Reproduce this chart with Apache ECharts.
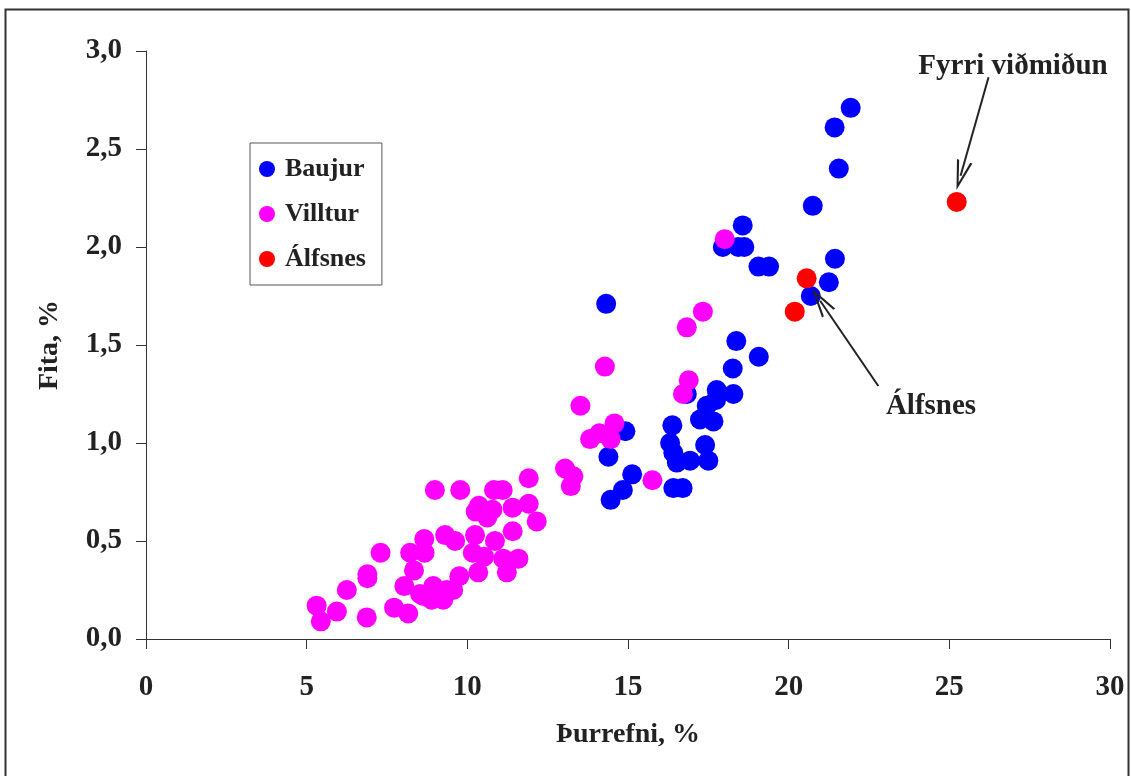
<!DOCTYPE html>
<html lang="is">
  <head>
    <meta charset="utf-8" />
    <title>Fita og þurrefni</title>
    <script src="https://cdn.jsdelivr.net/npm/echarts@6.0.0/dist/echarts.min.js"></script>
    <style>
      html, body { margin: 0; padding: 0; background: #fff; }
      #main { width: 1131px; height: 776px; }
    </style>
  </head>
  <body>
    <div id="main"></div>
    <script>
      // Þurrefni (%) , Fita (%)
      var baujur = [
        [14.32, 1.71], [14.39, 0.93], [14.92, 1.06], [14.46, 0.71], [14.84, 0.76],
        [15.13, 0.84], [16.38, 1.09], [16.31, 1.0], [16.41, 0.95], [16.52, 0.9],
        [16.93, 0.91], [17.5, 0.91], [17.4, 0.99], [16.41, 0.77], [16.7, 0.77],
        [17.76, 1.27], [18.28, 1.25], [17.45, 1.19], [17.24, 1.12], [17.66, 1.11],
        [17.74, 1.22], [16.83, 1.25], [18.37, 1.52], [19.07, 1.44], [18.26, 1.38],
        [20.75, 2.21], [18.57, 2.11], [17.95, 2.0], [18.43, 2.0], [18.62, 2.0],
        [19.06, 1.9], [19.39, 1.9], [21.44, 1.94], [21.25, 1.82], [20.69, 1.75],
        [21.93, 2.71], [21.43, 2.61], [21.56, 2.4]
      ];
      var villtur = [
        [18.01, 2.04], [17.33, 1.67], [16.83, 1.59], [16.89, 1.32], [16.71, 1.25],
        [14.28, 1.39], [13.52, 1.19], [13.82, 1.02], [14.11, 1.05], [14.58, 1.1],
        [14.46, 1.02], [15.76, 0.81], [13.04, 0.87], [13.3, 0.83], [13.22, 0.78],
        [11.91, 0.82], [8.99, 0.76], [9.78, 0.76], [10.83, 0.76], [11.1, 0.76],
        [10.36, 0.68], [10.78, 0.66], [11.41, 0.67], [11.91, 0.69], [12.16, 0.6],
        [10.62, 0.62], [11.41, 0.55], [10.24, 0.53], [10.86, 0.5], [9.62, 0.5],
        [9.31, 0.53], [8.66, 0.51], [8.22, 0.44], [8.67, 0.44], [7.3, 0.44],
        [8.34, 0.35], [6.89, 0.33], [6.89, 0.31], [10.17, 0.44], [10.52, 0.42],
        [11.12, 0.41], [11.59, 0.41], [10.34, 0.34], [11.23, 0.34], [9.75, 0.32],
        [9.56, 0.25], [9.36, 0.25], [8.94, 0.27], [8.63, 0.22], [9.25, 0.2],
        [8.89, 0.2], [8.04, 0.27], [8.53, 0.23], [7.72, 0.16], [8.16, 0.13],
        [6.25, 0.25], [5.94, 0.14], [5.31, 0.17], [5.44, 0.09], [6.87, 0.11],
        [10.26, 0.65]
      ];
      var alfsnes = [[20.56, 1.84], [20.19, 1.67], [25.23, 2.23]];

      var seriesNames = ["Baujur", "Villtur", "Álfsnes"];
      var seriesColors = ["#0000ff", "#ff00ff", "#ff0000"];

      // örvar: [upphaf, endir]
      var arrowFyrri = [[26.22, 2.866], [25.35, 2.364]];
      var arrowAlfsnes = [[22.79, 1.291], [20.98, 1.726]];

      var font = "'Liberation Serif', 'Times New Roman', serif";
      var textColor = "#222";
      var chevron = "path://M0,10 L5,0 L10,10 L8.6,10 L5,2.6 L1.4,10 Z";

      var myChart = echarts.init(document.getElementById("main"));

      function arrowLine(a) {
        return [
          { coord: a[0], symbol: "none" },
          { coord: a[1], symbol: chevron, symbolSize: [16, 30] }
        ];
      }

      var option = {
        backgroundColor: "#fff",
        animation: false,
        grid: { left: 146, top: 51, right: 21, bottom: 137 },
        legend: {
          orient: "vertical",
          left: 250,
          top: 143,
          padding: [11, 16, 11, 9],
          itemGap: 15,
          itemWidth: 16,
          itemHeight: 16,
          borderColor: "#555",
          borderWidth: 1,
          icon: "circle",
          data: seriesNames,
          textStyle: {
            fontFamily: font,
            fontWeight: "bold",
            fontSize: 26,
            lineHeight: 30,
            padding: [0, 0, 0, 5],
            color: textColor
          }
        },
        xAxis: {
          type: "value",
          min: 0,
          max: 30,
          interval: 5,
          name: "Þurrefni, %",
          nameLocation: "middle",
          nameGap: 82,
          nameTextStyle: { fontFamily: font, fontWeight: "bold", fontSize: 28, color: textColor },
          splitLine: { show: false },
          axisLine: { lineStyle: { color: "#333", width: 1 } },
          axisTick: { length: 10, lineStyle: { color: "#333" } },
          axisLabel: { margin: 34, fontFamily: font, fontWeight: "bold", fontSize: 29, color: textColor }
        },
        yAxis: {
          type: "value",
          min: 0,
          max: 3,
          interval: 0.5,
          name: "Fita, %",
          nameLocation: "middle",
          nameGap: 82,
          nameRotate: 90,
          nameTextStyle: { fontFamily: font, fontWeight: "bold", fontSize: 28, color: textColor },
          splitLine: { show: false },
          axisLine: { show: true, lineStyle: { color: "#333", width: 1 } },
          axisTick: { show: true, length: 10, lineStyle: { color: "#333" } },
          axisLabel: {
            margin: 24,
            fontFamily: font,
            fontWeight: "bold",
            fontSize: 29,
            color: textColor,
            formatter: function (v) { return v.toFixed(1).replace(".", ","); }
          }
        },
        series: [
          {
            name: seriesNames[0],
            type: "scatter",
            symbolSize: 20,
            itemStyle: { color: seriesColors[0], opacity: 1 },
            data: baujur
          },
          {
            name: seriesNames[1],
            type: "scatter",
            symbolSize: 20,
            itemStyle: { color: seriesColors[1], opacity: 1 },
            data: villtur
          },
          {
            name: seriesNames[2],
            type: "scatter",
            symbolSize: 20,
            itemStyle: { color: seriesColors[2], opacity: 1 },
            data: alfsnes,
            markLine: {
              silent: true,
              animation: false,
              label: { show: false },
              lineStyle: { color: "#222", width: 2, type: "solid" },
              data: [arrowLine(arrowFyrri), arrowLine(arrowAlfsnes)]
            }
          }
        ],
        graphic: [
          {
            type: "rect",
            left: 3,
            top: 7,
            shape: { width: 1123, height: 790 },
            style: { fill: null, stroke: "#333", lineWidth: 2 },
            silent: true
          },
          {
            type: "text",
            x: 1013,
            y: 67,
            style: {
              text: "Fyrri viðmiðun",
              font: "bold 29px " + font,
              fill: textColor,
              textAlign: "center",
              textVerticalAlign: "middle"
            }
          },
          {
            type: "text",
            x: 931,
            y: 407,
            style: {
              text: "Álfsnes",
              font: "bold 29px " + font,
              fill: textColor,
              textAlign: "center",
              textVerticalAlign: "middle"
            }
          }
        ]
      };

      myChart.setOption(option);
    </script>
  </body>
</html>
